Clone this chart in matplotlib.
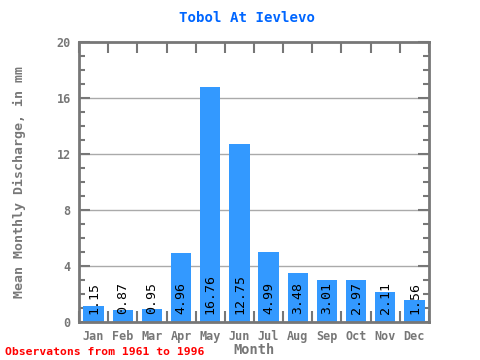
import matplotlib
matplotlib.use("Agg")
import matplotlib.pyplot as plt
from matplotlib.ticker import MultipleLocator, FixedLocator

months = ["Jan", "Feb", "Mar", "Apr", "May", "Jun", "Jul", "Aug", "Sep", "Oct", "Nov", "Dec"]
values = [1.15, 0.87, 0.95, 4.96, 16.76, 12.75, 4.99, 3.48, 3.01, 2.97, 2.11, 1.56]
labels = ["1.15", "0.87", "0.95", "4.96", "16.76", "12.75", "4.99", "3.48", "3.01", "2.97", "2.11", "1.56"]
yticks = [0, 4, 8, 12, 16, 20]

plt.rcParams['font.family'] = ['DejaVu Sans Mono']
gray = "#777777"

fig = plt.figure(figsize=(4.8, 3.6), dpi=100)
ax = fig.add_axes([79/480, 1-322/360, 350/480, 280/360])

x = list(range(len(months)))
ax.bar(x, values, width=0.7, color="#3399FF", zorder=2)
for xi, lab in zip(x, labels):
    ax.text(xi, 0.6, lab, rotation=90, ha="center", va="bottom", fontsize=9.5, color="black", zorder=3)

ax.set_xlim(-0.5, 11.5)
ax.set_ylim(0, 20)
ax.set_yticks(yticks)
ax.yaxis.set_minor_locator(MultipleLocator(1))
ax.set_xticks(x)
ax.set_xticklabels(months)
ax.xaxis.set_minor_locator(FixedLocator([i + 0.5 for i in range(-1, 12)]))
ax.tick_params(axis="x", which="major", length=0, labelsize=8.5, labelcolor=gray, pad=6)
ax.tick_params(axis="x", which="minor", length=8, width=1.5, color=gray, direction="in", top=True, bottom=True)
ax.tick_params(axis="y", which="major", length=8, width=1.5, color=gray, direction="in", left=True, right=True, labelsize=8.5, labelcolor=gray, pad=6)
ax.tick_params(axis="y", which="minor", length=4, width=1.5, color=gray, direction="in", left=True, right=True)
for lab in ax.get_xticklabels() + ax.get_yticklabels():
    lab.set_fontweight("bold")

for y in yticks[1:-1]:
    ax.axhline(y, color="#AAAAAA", lw=1, zorder=1)

for s in ax.spines.values():
    s.set_color(gray)
    s.set_linewidth(2)

fig.text(247/480, 1-18/360, "Tobol At Ievlevo", color="#0066FF", fontsize=10.2, fontweight="bold", ha="center", va="center")
ax.set_ylabel("Mean Monthly Discharge, in mm", color=gray, fontsize=9.5, fontweight="bold", labelpad=22)
ax.set_xlabel("Month", color=gray, fontsize=9.8, fontweight="bold", labelpad=0)
fig.text(5/480, 1-352/360, "Observatons from 1961 to 1996", color="red", fontsize=8.2, fontweight="bold", va="center", ha="left")

fig.savefig("out.png", dpi=100)
